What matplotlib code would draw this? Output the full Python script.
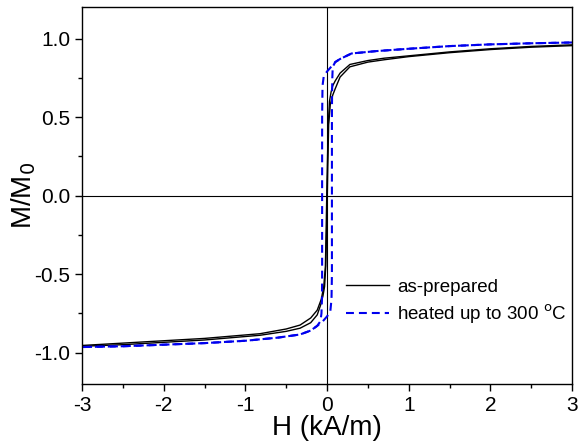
import numpy as np
import matplotlib.pyplot as plt
from matplotlib.ticker import MultipleLocator, FormatStrFormatter

plt.rcParams['font.family'] = ['Liberation Sans', 'DejaVu Sans']
plt.rcParams['axes.unicode_minus'] = False

# as-prepared, descending branch (H from +3 to -3)
h_prep_down = [3, 2.5, 2, 1.5, 1, 0.7, 0.5, 0.28, 0.16, 0.1, 0.07, 0.05, 0.03, 0.015,
               0.0, -0.01, -0.02, -0.04, -0.07, -0.12, -0.2, -0.33, -0.5, -0.82, -1.5, -2.17, -2.5, -3]
m_prep_down = [0.96, 0.95, 0.935, 0.915, 0.89, 0.875, 0.86, 0.835, 0.78, 0.73, 0.7, 0.66, 0.6, 0.45,
               0.1, -0.2, -0.45, -0.58, -0.66, -0.73, -0.78, -0.825, -0.85, -0.88, -0.91, -0.93, -0.94, -0.955]
# as-prepared, ascending branch (H from -3 to +3)
h_prep_up = [-3, -2.5, -2.17, -1.5, -0.82, -0.5, -0.33, -0.2, -0.12, -0.08, -0.05, -0.03, -0.015,
             0.0, 0.01, 0.02, 0.04, 0.07, 0.1, 0.16, 0.28, 0.5, 0.7, 1, 1.5, 2, 2.5, 3]
m_prep_up = [-0.96, -0.95, -0.94, -0.92, -0.89, -0.865, -0.845, -0.81, -0.76, -0.7, -0.64, -0.58, -0.45,
             -0.1, 0.2, 0.45, 0.58, 0.64, 0.68, 0.755, 0.82, 0.85, 0.865, 0.885, 0.91, 0.93, 0.945, 0.955]

# heated up to 300 C, descending branch
h_heat_down = [3, 2.5, 2, 1.5, 1, 0.6, 0.3, 0.16, 0.1, 0.05, 0.0, -0.04, -0.055, -0.06,
               -0.06, -0.062, -0.068, -0.08, -0.12, -0.2, -0.33, -0.6, -1, -1.5, -2, -2.5, -3]
m_heat_down = [0.975, 0.97, 0.963, 0.952, 0.935, 0.92, 0.905, 0.87, 0.85, 0.82, 0.79, 0.76, 0.7, 0.5,
               -0.5, -0.66, -0.75, -0.8, -0.83, -0.86, -0.885, -0.905, -0.925, -0.94, -0.95, -0.96, -0.965]
# heated up to 300 C, ascending branch
h_heat_up = [-3, -2.5, -2, -1.5, -1, -0.6, -0.33, -0.2, -0.12, -0.05, 0.0, 0.04, 0.055, 0.06,
             0.06, 0.062, 0.065, 0.07, 0.1, 0.16, 0.3, 0.6, 1, 1.5, 2, 2.5, 3]
m_heat_up = [-0.965, -0.96, -0.95, -0.94, -0.925, -0.905, -0.885, -0.86, -0.83, -0.8, -0.77, -0.74, -0.66, -0.5,
             0.5, 0.66, 0.75, 0.82, 0.85, 0.87, 0.905, 0.92, 0.935, 0.952, 0.963, 0.97, 0.975]

fig = plt.figure(figsize=(5.79, 4.48), dpi=100)
ax = fig.add_axes([0.1416, 0.143, 0.8464, 0.841])

ax.axhline(0, color='black', lw=0.8)
ax.axvline(0, color='black', lw=0.8)

ax.plot(h_prep_down, m_prep_down, color='black', lw=1.0, label='as-prepared')
ax.plot(h_prep_up, m_prep_up, color='black', lw=1.0)
l1, = ax.plot(h_heat_down, m_heat_down, color='#0000ee', lw=1.5, label='heated up to 300 $^{\\rm o}$C')
l2, = ax.plot(h_heat_up, m_heat_up, color='#0000ee', lw=1.5)
for l in (l1, l2):
    l.set_dashes((3.8, 2.4))

ax.set_xlim(-3, 3)
ax.set_ylim(-1.2, 1.2)
ax.xaxis.set_major_locator(MultipleLocator(1))
ax.xaxis.set_minor_locator(MultipleLocator(0.5))
ax.yaxis.set_major_locator(MultipleLocator(0.5))
ax.yaxis.set_minor_locator(MultipleLocator(0.25))
ax.yaxis.set_major_formatter(FormatStrFormatter('%.1f'))
ax.tick_params(which='major', direction='out', length=5, width=1, labelsize=15)
ax.tick_params(which='minor', direction='out', length=3, width=1)
for s in ax.spines.values():
    s.set_linewidth(1.0)

ax.set_xlabel('H (kA/m)', fontsize=20, labelpad=0)
ax.set_ylabel('M/M$_{\\rm 0}$', fontsize=20, labelpad=-3)

ax.legend(loc='lower left', bbox_to_anchor=(0.52, 0.13), frameon=False, fontsize=13.5,
          handlelength=2.3, handletextpad=0.4, labelspacing=0.35, borderpad=0)

fig.savefig('out.png', dpi=100)
